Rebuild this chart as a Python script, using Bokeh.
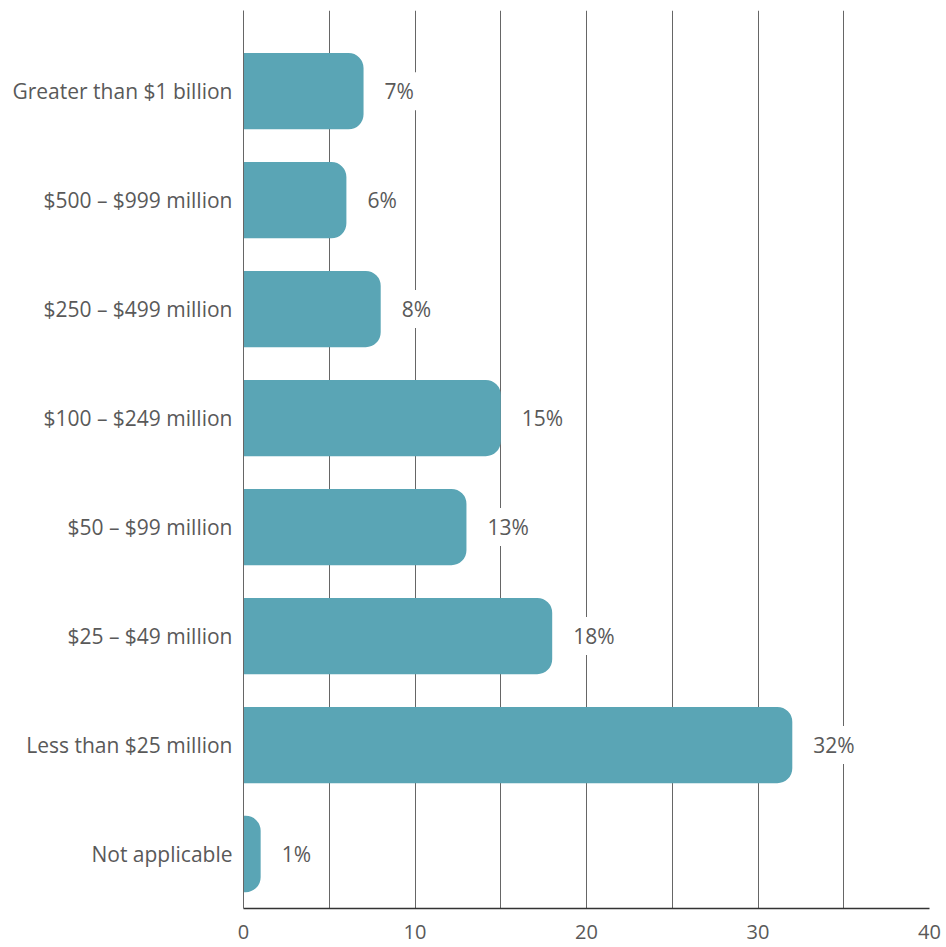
from bokeh.plotting import figure
from bokeh.models import ColumnDataSource, FixedTicker, Range1d
from bokeh.core.properties import value
from bokeh.embed import file_html
from bokeh.resources import INLINE

categories = ["Not applicable", "Less than $25 million", "$25 – $49 million", "$50 – $99 million",
              "$100 – $249 million", "$250 – $499 million", "$500 – $999 million", "Greater than $1 billion"]
values = [1, 32, 18, 13, 15, 8, 6, 7]
labels = [f"{v}%" for v in values]
x_ticks = [0, 10, 20, 30, 40]
grid_ticks = [0, 5, 10, 15, 20, 25, 30, 35, 40]

ypos = list(range(len(categories)))
src = ColumnDataSource(dict(y=ypos, v=values, lab=labels))

FONT = "Open Sans"
TXT = "#595959"

p = figure(width=944, height=947, output_backend="svg", toolbar_location=None,
           x_range=Range1d(0, 40), y_range=Range1d(-0.5, 7.74),
           min_border_left=243, min_border_right=15, min_border_top=10, min_border_bottom=39)
p.outline_line_color = None
p.background_fill_color = "white"

p.hbar(y="y", left=0, right="v", height=0.7, source=src, fill_color="#5aa5b5",
       line_color=None, border_radius=(0, 15, 15, 0))

p.text(x="v", y="y", text="lab", source=src, x_offset=16,
       text_baseline="middle", text_align="left", text_font=value(FONT),
       text_font_size="21px", text_color=TXT,
       background_fill_color="white", padding=5)

p.xaxis.ticker = FixedTicker(ticks=x_ticks)
p.xaxis.major_tick_line_color = None
p.xaxis.minor_tick_line_color = None
p.xaxis.axis_line_color = "#333333"
p.xaxis.axis_line_width = 1.5
p.xaxis.major_label_text_font = FONT
p.xaxis.major_label_text_font_size = "20px"
p.xaxis.major_label_text_color = TXT
p.xaxis.major_label_standoff = 10

p.yaxis.ticker = FixedTicker(ticks=ypos)
p.yaxis.major_label_overrides = {i: c for i, c in enumerate(categories)}
p.yaxis.axis_line_color = "#666666"
p.yaxis.axis_line_width = 1
p.yaxis.major_tick_line_color = None
p.yaxis.minor_tick_line_color = None
p.yaxis.major_label_text_font = FONT
p.yaxis.major_label_text_font_size = "21px"
p.yaxis.major_label_text_color = TXT
p.yaxis.major_label_standoff = 5

p.xgrid.ticker = FixedTicker(ticks=grid_ticks)
p.xgrid.grid_line_color = "#666666"
p.xgrid.grid_line_width = 1
p.ygrid.grid_line_color = None

open("out.html", "w").write(file_html(p, INLINE))
